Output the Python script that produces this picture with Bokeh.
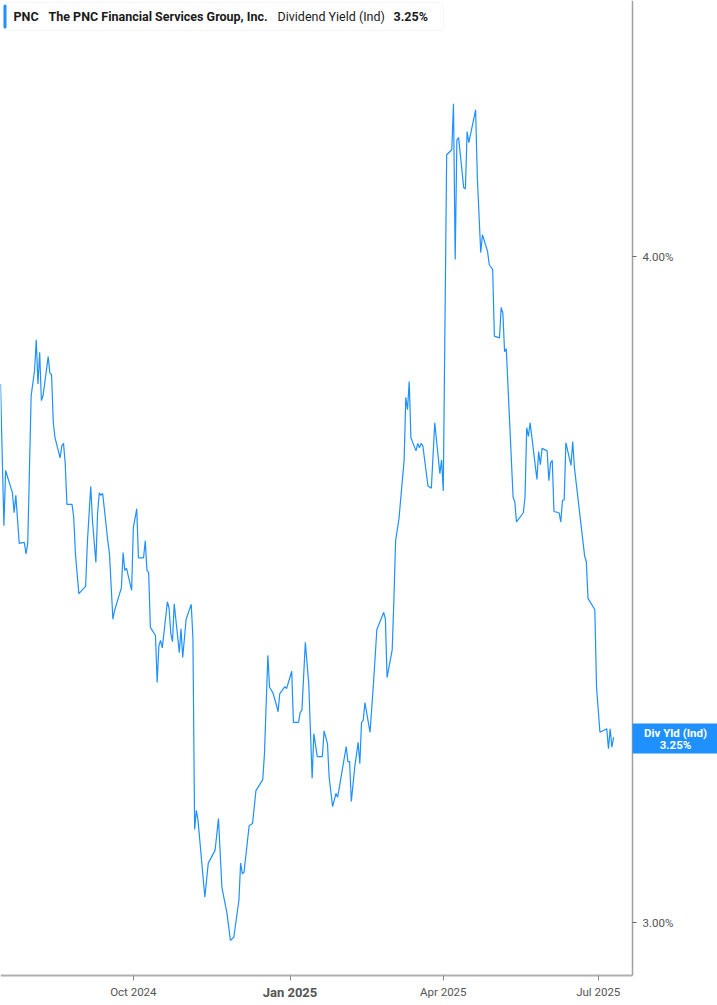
import pandas as pd
from bokeh.plotting import figure
from bokeh.models import (Range1d, FixedTicker, CustomJSTickFormatter, DatetimeAxis, LogAxis,
                          PrintfTickFormatter, Label, BoxAnnotation)
from bokeh.embed import file_html
from bokeh.resources import INLINE

# ---- data ----
dates = [
    "2024-07-15", "2024-07-17", "2024-07-18", "2024-07-22", "2024-07-23", "2024-07-24",
    "2024-07-26", "2024-07-28", "2024-07-29", "2024-07-30", "2024-07-31", "2024-08-02",
    "2024-08-04", "2024-08-05", "2024-08-06", "2024-08-07", "2024-08-08", "2024-08-09",
    "2024-08-12", "2024-08-13", "2024-08-14", "2024-08-15", "2024-08-16", "2024-08-19",
    "2024-08-20", "2024-08-21", "2024-08-22", "2024-08-23", "2024-08-26", "2024-08-27",
    "2024-08-28", "2024-08-30", "2024-09-03", "2024-09-04", "2024-09-06", "2024-09-07",
    "2024-09-09", "2024-09-10", "2024-09-11", "2024-09-12", "2024-09-13", "2024-09-16",
    "2024-09-17", "2024-09-19", "2024-09-20", "2024-09-24", "2024-09-25", "2024-09-26",
    "2024-09-27", "2024-09-30", "2024-10-01", "2024-10-03", "2024-10-04", "2024-10-07",
    "2024-10-08", "2024-10-09", "2024-10-10", "2024-10-11", "2024-10-14", "2024-10-15",
    "2024-10-16", "2024-10-17", "2024-10-18", "2024-10-21", "2024-10-22", "2024-10-23",
    "2024-10-24", "2024-10-25", "2024-10-28", "2024-10-29", "2024-10-30", "2024-11-01",
    "2024-11-04", "2024-11-05", "2024-11-06", "2024-11-07", "2024-11-08", "2024-11-12",
    "2024-11-14", "2024-11-18", "2024-11-20", "2024-11-22", "2024-11-25", "2024-11-27",
    "2024-11-29", "2024-12-02", "2024-12-03", "2024-12-04", "2024-12-05", "2024-12-08",
    "2024-12-10", "2024-12-12", "2024-12-16", "2024-12-17", "2024-12-19", "2024-12-20",
    "2024-12-22", "2024-12-24", "2024-12-25", "2024-12-26", "2024-12-29", "2024-12-30",
    "2025-01-02", "2025-01-03", "2025-01-06", "2025-01-07", "2025-01-08", "2025-01-10",
    "2025-01-12", "2025-01-14", "2025-01-15", "2025-01-17", "2025-01-20", "2025-01-21",
    "2025-01-23", "2025-01-24", "2025-01-26", "2025-01-28", "2025-01-29", "2025-02-03",
    "2025-02-04", "2025-02-05", "2025-02-06", "2025-02-08", "2025-02-10", "2025-02-11",
    "2025-02-12", "2025-02-13", "2025-02-14", "2025-02-17", "2025-02-19", "2025-02-21",
    "2025-02-25", "2025-02-26", "2025-02-27", "2025-03-02", "2025-03-03", "2025-03-04",
    "2025-03-06", "2025-03-09", "2025-03-10", "2025-03-11", "2025-03-12", "2025-03-13",
    "2025-03-16", "2025-03-17", "2025-03-18", "2025-03-19", "2025-03-20", "2025-03-23",
    "2025-03-25", "2025-03-27", "2025-03-30", "2025-03-31", "2025-04-01", "2025-04-03",
    "2025-04-06", "2025-04-07", "2025-04-08", "2025-04-09", "2025-04-10", "2025-04-13",
    "2025-04-14", "2025-04-15", "2025-04-16", "2025-04-20", "2025-04-21", "2025-04-23",
    "2025-04-24", "2025-04-27", "2025-04-28", "2025-04-30", "2025-05-01", "2025-05-04",
    "2025-05-05", "2025-05-06", "2025-05-07", "2025-05-08", "2025-05-12", "2025-05-13",
    "2025-05-14", "2025-05-18", "2025-05-19", "2025-05-20", "2025-05-21", "2025-05-22",
    "2025-05-26", "2025-05-27", "2025-05-28", "2025-05-29", "2025-06-01", "2025-06-02",
    "2025-06-03", "2025-06-04", "2025-06-05", "2025-06-08", "2025-06-09", "2025-06-10",
    "2025-06-11", "2025-06-12", "2025-06-15", "2025-06-16", "2025-06-17", "2025-06-23",
    "2025-06-24", "2025-06-25", "2025-06-29", "2025-06-30", "2025-07-02", "2025-07-06",
    "2025-07-07", "2025-07-08", "2025-07-09", "2025-07-10",
]
div_yield = [
    3.786, 3.561, 3.647, 3.612, 3.581, 3.608, 3.534, 3.535, 3.535, 3.518, 3.534, 3.767,
    3.808, 3.859, 3.786, 3.838, 3.759, 3.767, 3.831, 3.804, 3.801, 3.723, 3.699, 3.667,
    3.686, 3.690, 3.658, 3.594, 3.594, 3.574, 3.518, 3.458, 3.469, 3.535, 3.622, 3.569,
    3.505, 3.580, 3.612, 3.608, 3.611, 3.538, 3.518, 3.420, 3.433, 3.467, 3.520, 3.493,
    3.496, 3.463, 3.558, 3.587, 3.512, 3.512, 3.538, 3.493, 3.490, 3.408, 3.396, 3.328,
    3.381, 3.389, 3.378, 3.446, 3.436, 3.399, 3.387, 3.443, 3.371, 3.406, 3.364, 3.420,
    3.442, 3.392, 3.123, 3.149, 3.135, 3.033, 3.078, 3.095, 3.138, 3.046, 3.012, 2.977,
    2.981, 3.029, 3.078, 3.064, 3.066, 3.128, 3.131, 3.176, 3.191, 3.227, 3.367, 3.321,
    3.313, 3.296, 3.286, 3.312, 3.322, 3.319, 3.344, 3.271, 3.271, 3.285, 3.288, 3.386,
    3.326, 3.193, 3.255, 3.223, 3.223, 3.259, 3.241, 3.194, 3.154, 3.172, 3.167, 3.237,
    3.216, 3.216, 3.161, 3.208, 3.243, 3.213, 3.271, 3.274, 3.299, 3.257, 3.326, 3.405,
    3.430, 3.421, 3.335, 3.375, 3.448, 3.538, 3.572, 3.663, 3.764, 3.744, 3.790, 3.699,
    3.678, 3.690, 3.683, 3.690, 3.686, 3.623, 3.619, 3.723, 3.642, 3.664, 3.615, 4.180,
    4.189, 4.273, 3.995, 4.207, 4.211, 4.121, 4.119, 4.222, 4.202, 4.262, 4.139, 4.007,
    4.038, 4.009, 3.986, 3.978, 3.865, 3.862, 3.913, 3.903, 3.839, 3.844, 3.605, 3.598,
    3.567, 3.581, 3.605, 3.715, 3.701, 3.723, 3.633, 3.677, 3.656, 3.682, 3.678, 3.631,
    3.659, 3.663, 3.583, 3.581, 3.567, 3.600, 3.601, 3.691, 3.655, 3.693, 3.652, 3.515,
    3.506, 3.451, 3.434, 3.321, 3.257, 3.262, 3.234, 3.262, 3.236, 3.25,
]
x_tick_dates = ["2024-10-01", "2025-01-01", "2025-04-01", "2025-07-01"]
y_ticks = [3.0, 4.0]
ticker_symbol = "PNC"
company = "The PNC Financial Services Group, Inc."
metric = "Dividend Yield (Ind)"
last_label = "Div Yld (Ind)"
last_value = "3.25%"

BLUE = "#1e90ff"
FONT = "Roboto"

W, H = 717, 1005
x = pd.to_datetime(dates)
x_start = pd.Timestamp("2024-07-15")
x_axis_end = pd.Timestamp("2025-07-21 02:24")   # where the right axis sits
x_view_end = pd.Timestamp("2025-09-09 00:45")   # right edge of the canvas
y_axis_lo, y_view_lo, y_hi = 2.932, 2.8944, 4.468

p = figure(frame_width=W, frame_height=H,
           x_range=Range1d(x_start, x_view_end), y_range=Range1d(y_view_lo, y_hi),
           x_axis_type=None, y_axis_type="log",
           y_axis_location=None,
           min_border_left=0, min_border_top=0, min_border_right=0, min_border_bottom=0,
           output_backend="svg", toolbar_location=None)
p.outline_line_color = None
p.background_fill_color = "white"
p.border_fill_color = "white"
p.xgrid.visible = False
p.ygrid.visible = False

p.line(x, div_yield, line_color=BLUE, line_width=1.2)

# bottom axis (fixed at the bottom edge of the data area)
tick_ms = [pd.Timestamp(d).value // 10**6 for d in x_tick_dates]
xa = DatetimeAxis(fixed_location=y_axis_lo,
                  bounds=(x_start.value // 10**6, x_axis_end.value // 10**6))
xa.ticker = FixedTicker(ticks=tick_ms)
xa.formatter = CustomJSTickFormatter(code="""
const d = new Date(tick);
const n = ['Jan','Feb','Mar','Apr','May','Jun','Jul','Aug','Sep','Oct','Nov','Dec'];
if (d.getUTCMonth() == 0) { return ''; }
return n[d.getUTCMonth()] + ' ' + d.getUTCFullYear();
""")
xa.axis_line_color = "#b0b0b0"
xa.axis_line_width = 2
xa.major_tick_in = 0
xa.major_tick_out = 5
xa.major_tick_line_color = "#888888"
xa.minor_tick_line_color = None
xa.major_label_text_font = FONT
xa.major_label_text_font_size = "11.5px"
xa.major_label_text_color = "#555555"
xa.major_label_standoff = 4
p.add_layout(xa, "below")

# bold Jan label
p.add_layout(Label(x=tick_ms[1], y=H - 992,
                   x_units="data", y_units="screen", text="Jan 2025",
                   text_align="center", text_baseline="middle",
                   text_font=FONT, text_font_size="13px", text_font_style="bold",
                   text_color="#555555"))

# right axis (fixed at the right edge of the data area)
ya = LogAxis(fixed_location=x_axis_end.value // 10**6, bounds=(y_axis_lo, y_hi))
ya.ticker = FixedTicker(ticks=y_ticks)
ya.formatter = PrintfTickFormatter(format="%.2f%%")
ya.axis_line_color = "#a0a0a0"
ya.axis_line_width = 1.5
ya.major_tick_in = 0
ya.major_tick_out = 4
ya.major_tick_line_color = "#666666"
ya.minor_tick_line_color = None
ya.major_label_text_font = FONT
ya.major_label_text_font_size = "11.5px"
ya.major_label_text_color = "#555555"
ya.major_label_standoff = 6
p.add_layout(ya, "right")

# header box
p.add_layout(BoxAnnotation(left=3, right=443, top=H - 2, bottom=H - 30,
                           left_units="screen", right_units="screen",
                           top_units="screen", bottom_units="screen",
                           fill_color="white", fill_alpha=1.0,
                           line_color="#e2e2e2", line_width=1, border_radius=4))
p.add_layout(BoxAnnotation(left=3, right=6, top=H - 4, bottom=H - 28,
                           left_units="screen", right_units="screen",
                           top_units="screen", bottom_units="screen",
                           fill_color=BLUE, fill_alpha=1.0, line_color=None,
                           border_radius=2))
for txt, xx, style in [(ticker_symbol, 13, "bold"), (company, 48, "bold"),
                       (metric, 277, "normal"), (last_value, 393, "bold")]:
    p.add_layout(Label(x=xx, y=H - 16, x_units="screen", y_units="screen", text=txt,
                       text_align="left", text_baseline="middle",
                       text_font=FONT, text_font_size="12.5px", text_font_style=style,
                       text_color="#1a1a1a"))

# last value tag
p.add_layout(BoxAnnotation(left=632, right=717, top=H - 723, bottom=H - 753,
                           left_units="screen", right_units="screen",
                           top_units="screen", bottom_units="screen",
                           fill_color=BLUE, fill_alpha=1.0, line_color=None))
p.add_layout(Label(x=675, y=H - 732, x_units="screen", y_units="screen", text=last_label,
                   text_align="center", text_baseline="middle", text_font=FONT,
                   text_font_size="11.5px", text_font_style="bold", text_color="white"))
p.add_layout(Label(x=675, y=H - 744, x_units="screen", y_units="screen", text=last_value,
                   text_align="center", text_baseline="middle", text_font=FONT,
                   text_font_size="11.5px", text_font_style="bold", text_color="white"))

open("out.html", "w").write(file_html(p, INLINE))
